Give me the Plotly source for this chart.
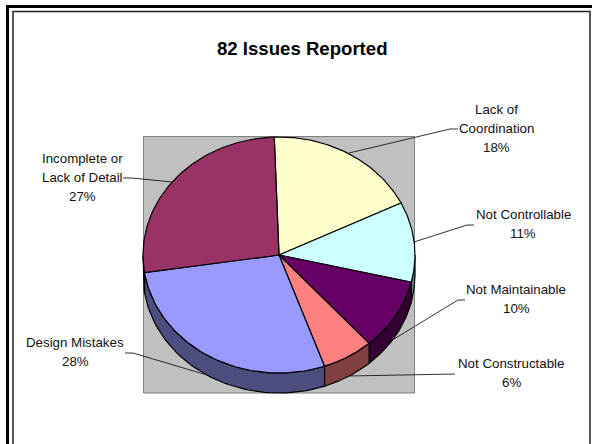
import numpy as np
import plotly.graph_objects as go

title = "82 Issues Reported"
categories = ["Lack of Coordination", "Not Controllable", "Not Maintainable",
              "Not Constructable", "Design Mistakes", "Incomplete or Lack of Detail"]
values = [15, 9, 8, 5, 23, 22]
label_lines = [["Lack of", "Coordination"], ["Not Controllable"], ["Not Maintainable"],
               ["Not Constructable"], ["Design Mistakes"], ["Incomplete or", "Lack of Detail"]]
top_colors = ["#FFFFCC", "#CCFFFF", "#660066", "#FF8080", "#9999FF", "#993366"]
wall_colors = ["#808066", "#668080", "#330033", "#804040", "#4D4D80", "#4D1A33"]

# layout (pixels)
CX, CY, RX, RY, DEPTH, START = 279, 255, 136, 118, 20, -2
label_pos = [(496, 109), (523, 214), (516, 289), (511, 363), (75, 342), (82, 158)]
LINE_GAP = 19.3
leaders = [
    [(349, 153), (450, 129), (458, 129)],
    [(414, 242), (467, 225), (474, 225)],
    [(394, 339), (458, 300), (465, 300)],
    [(349, 376), (455, 374)],
    [(207, 375), (133, 353), (125, 353)],
    [(172, 182), (132, 178), (123, 178)],
]

total = sum(values)
edges = START + 360 * np.concatenate([[0], np.cumsum(values)]) / total


def ex(t):
    return CX + RX * np.sin(np.radians(t))


def ey(t, dy=0):
    return CY + dy - RY * np.cos(np.radians(t))


fig = go.Figure()

# side walls: only the front half of the rim (90..270 degrees) is visible
for a, b, col in zip(edges[:-1], edges[1:], wall_colors):
    lo, hi = max(a, 90), min(b, 270)
    if lo >= hi:
        continue
    t = np.linspace(lo, hi, 60)
    xs = np.concatenate([ex(t), ex(t[::-1])])
    ys = np.concatenate([ey(t), ey(t[::-1], DEPTH)])
    fig.add_trace(go.Scatter(x=list(xs) + [xs[0]], y=list(ys) + [ys[0]], mode="lines",
                             fill="toself", fillcolor=col,
                             line=dict(color="black", width=1.2), hoverinfo="skip"))

# top face slices
for a, b, col in zip(edges[:-1], edges[1:], top_colors):
    t = np.linspace(a, b, 80)
    xs = [CX] + list(ex(t)) + [CX]
    ys = [CY] + list(ey(t)) + [CY]
    fig.add_trace(go.Scatter(x=xs, y=ys, mode="lines", fill="toself", fillcolor=col,
                             line=dict(color="black", width=1.2), hoverinfo="skip"))

# leader lines
for pts in leaders:
    fig.add_trace(go.Scatter(x=[p[0] for p in pts], y=[p[1] for p in pts], mode="lines",
                             line=dict(color="#1a1a1a", width=0.9), hoverinfo="skip"))

annotations = [dict(x=302, y=48, text=f"<b>{title}</b>", showarrow=False, xref="x", yref="y",
                    xanchor="center", yanchor="middle",
                    font=dict(family="Liberation Sans", size=18.6, color="black"))]
for lines, v, (lx, ly) in zip(label_lines, values, label_pos):
    rows = lines + [f"{round(100 * v / total)}%"]
    for i, row in enumerate(rows):
        annotations.append(dict(x=lx, y=ly + i * LINE_GAP, text=row, showarrow=False,
                                xref="x", yref="y", xanchor="center", yanchor="middle",
                                font=dict(family="Liberation Sans", size=13.3, color="#111111")))

shapes = [
    dict(type="rect", x0=143.5, x1=414.5, y0=136.5, y1=393, layer="below",
         fillcolor="#C0C0C0", line=dict(color="#808080", width=1)),
    dict(type="path", path="M 7.5 444 L 7.5 6.5 L 592 6.5", layer="above",
         line=dict(color="black", width=3)),
    dict(type="path", path="M 13 444 L 13 11.5 L 590 11.5 L 590 444", layer="above",
         line=dict(color="#222222", width=1.5)),
]

fig.update_layout(
    width=592, height=444, margin=dict(l=0, r=0, t=0, b=0), showlegend=False,
    paper_bgcolor="white", plot_bgcolor="white",
    xaxis=dict(range=[0, 592], visible=False, fixedrange=True),
    yaxis=dict(range=[444, 0], visible=False, fixedrange=True),
    annotations=annotations, shapes=shapes,
)
fig.write_html("out.html", config={"displayModeBar": False},
               post_script="document.body.style.margin='0';document.body.style.overflow='hidden';")
